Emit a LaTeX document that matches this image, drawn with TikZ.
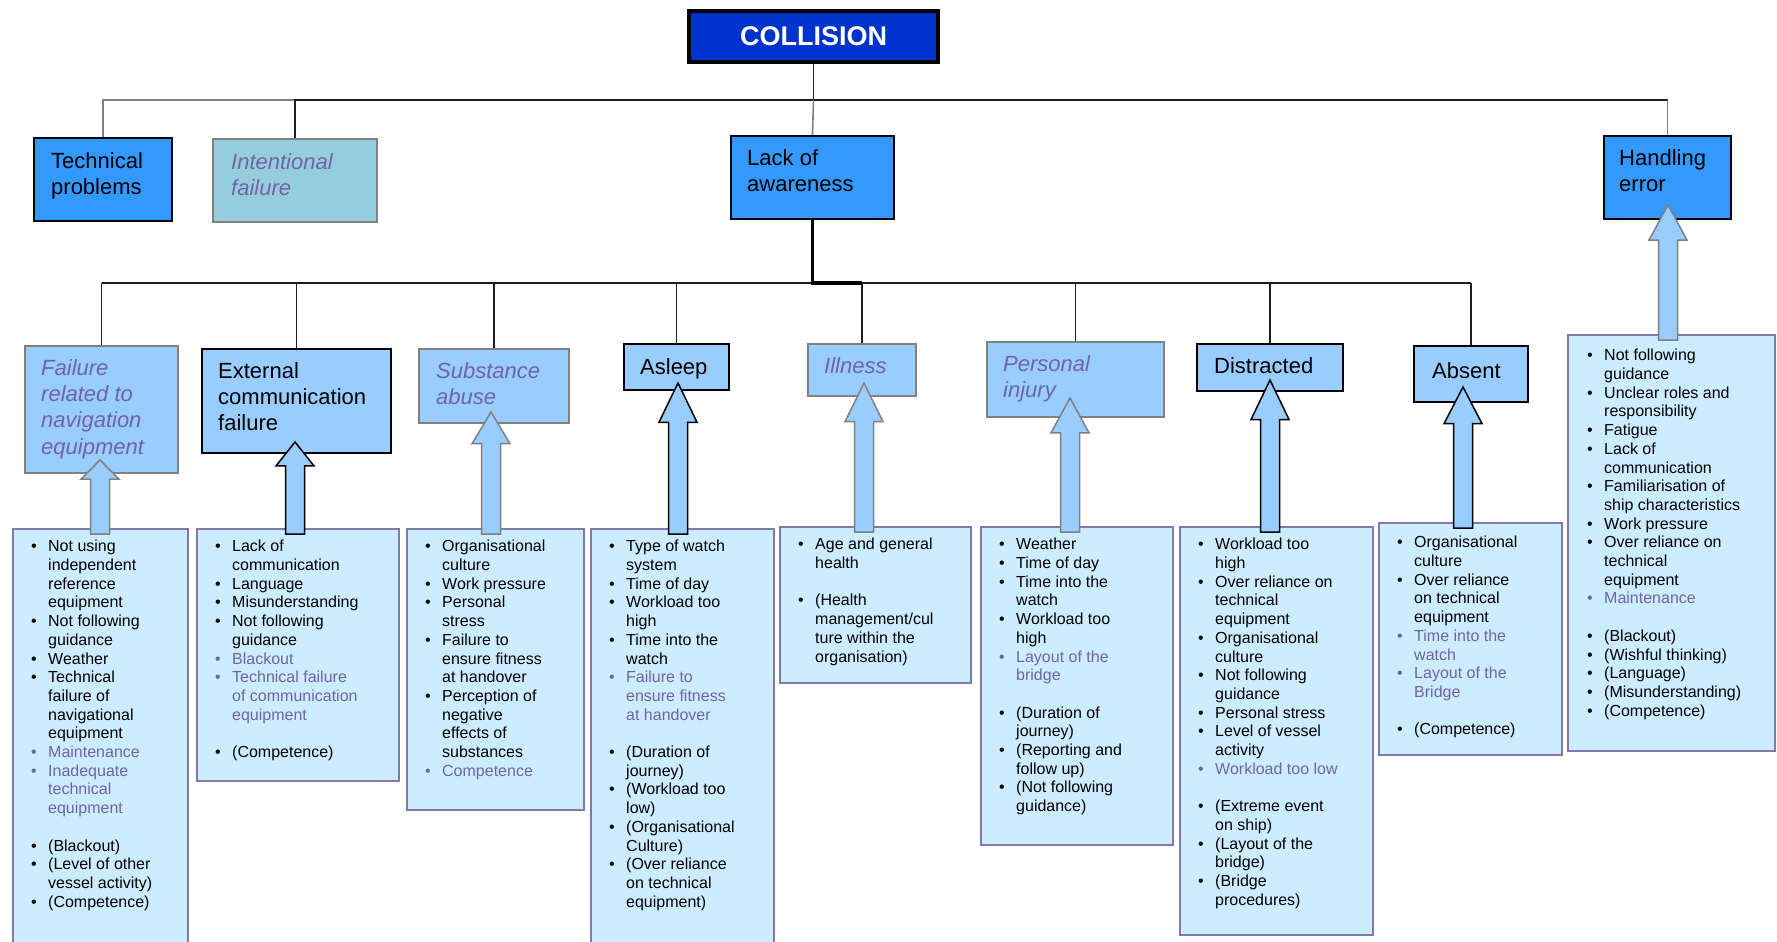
\documentclass[tikz,border=0pt]{standalone}
\usepackage{fontspec}
\setmainfont{Liberation Sans}
\usetikzlibrary{calc}

\definecolor{collblue}{RGB}{0,51,204}
\definecolor{midblue}{RGB}{51,153,255}
\definecolor{lightblue}{RGB}{153,204,255}
\definecolor{paleblue}{RGB}{204,236,255}
\definecolor{tealbox}{RGB}{150,205,220}
\definecolor{ptext}{RGB}{112,100,165}
\definecolor{pborder}{RGB}{128,120,175}
\definecolor{greyline}{RGB}{128,128,128}
\definecolor{darkline}{RGB}{30,30,30}

% list lines: black bullet item / continuation, muted purple item / continuation
\newcommand\BItem[1]{\makebox[17pt][l]{\textbullet}#1}
\newcommand\BCont[1]{\hspace*{17pt}#1}
\newcommand\GItem[1]{{\color{ptext}\makebox[17pt][l]{\textbullet}#1}}
\newcommand\GCont[1]{{\color{ptext}\hspace*{17pt}#1}}

% upward block arrow from a list box to a tip coordinate
\newcommand\UpArrow[3]{%
  \path[#3] let \p1=($(#2 |- #1.north)+(0,6)$), \p2=(#2), \n1={0.26*(\y2-\y1)} in
    (\x2-9.5pt,\y1) -- (\x2-9.5pt,\y2-\n1*1pt) -- (\x2-19pt,\y2-\n1*1pt) -- (\x2,\y2)
    -- (\x2+19pt,\y2-\n1*1pt) -- (\x2+9.5pt,\y2-\n1*1pt) -- (\x2+9.5pt,\y1) -- cycle;}

\tikzset{
  topbox/.style={draw=black, line width=3.5pt, fill=collblue, inner sep=0pt,
    text=white, font=\fontsize{27}{30}\selectfont\bfseries},
  lvlone/.style={draw=black, line width=2pt, fill=midblue, inner sep=0pt},
  intentbox/.style={draw=greyline, line width=2pt, fill=tealbox, inner sep=0pt},
  greybox/.style={draw=greyline, line width=2pt, fill=lightblue, inner sep=0pt},
  darkbox/.style={draw=black, line width=2pt, fill=lightblue, inner sep=0pt},
  detail/.style={draw=pborder, line width=1.8pt, fill=paleblue, inner sep=0pt, anchor=north west},
  headtext/.style={anchor=north west, inner sep=0pt, align=left, font=\fontsize{22}{26.4}\selectfont},
  headital/.style={anchor=north west, inner sep=0pt, align=left, text=ptext,
    font=\fontsize{22}{26.4}\selectfont\itshape},
  listtext/.style={anchor=north west, inner sep=0pt, align=left, font=\fontsize{16}{18.7}\selectfont},
  conn/.style={line width=1.6pt, draw=darkline},
  greyconn/.style={line width=1.6pt, draw=greyline},
  arrowgrey/.style={fill=lightblue, draw=greyline, line width=1.5pt, line join=miter},
  arrowdark/.style={fill=lightblue, draw=black, line width=1.5pt, line join=miter},
}

\begin{document}
\begin{tikzpicture}[x=1pt,y=-1pt]
\useasboundingbox (0,0) rectangle (1777,942);
\fill[white] (0,0) rectangle (1777,942);
\clip (0,0) rectangle (1777,942);

% ---- top event and first level ----
\node[topbox, minimum width=249pt, minimum height=51pt] (col) at (813.5,36.5) {COLLISION};

\node[lvlone, minimum width=138pt, minimum height=83pt] (tp) at (103,179.5) {};
\node[intentbox, minimum width=164pt, minimum height=83pt] (if) at (295,180.5) {};
\node[lvlone, minimum width=163pt, minimum height=83pt] (law) at (812.5,177.5) {};
\node[lvlone, minimum width=127pt, minimum height=83pt] (he) at (1667.5,177.5) {};

\node[headtext] (tpT) at ($(tp.north west)+(18,15)$) {Technical\\problems};
\node[headital] (ifT) at ($(if.north west)+(19,15)$) {Intentional\\failure};
\node[headtext] (lawT) at ($(law.north west)+(17,14)$) {Lack of\\awareness};
\node[headtext] (heT) at ($(he.north west)+(16,14)$) {Handling\\error};

\coordinate (bus1) at (813.5,100);
\draw[greyconn] (bus1) -| (tp.north);
\draw[conn] (bus1) -| (if.north);
\draw[conn] (col.south) -- (bus1);
\draw[greyconn] (bus1) -- (law.north);
\draw[conn] (bus1) -- (bus1 -| he.north);
\draw[greyconn] (bus1 -| he.north) -- (he.north);

% ---- second level under lack of awareness ----
\node[greybox, minimum width=153pt, minimum height=127pt] (n1) at (101.5,409.5) {};
\node[darkbox, minimum width=189pt, minimum height=104pt] (n2) at (296.5,401) {};
\node[greybox, minimum width=150pt, minimum height=74pt] (n3) at (494,386) {};
\node[darkbox, minimum width=105pt, minimum height=46pt] (n4) at (676.5,367) {};
\node[greybox, minimum width=108pt, minimum height=52pt] (n5) at (862,370) {};
\node[greybox, minimum width=177pt, minimum height=75pt] (n6) at (1075.5,379.5) {};
\node[darkbox, minimum width=146pt, minimum height=47pt] (n7) at (1270,367.5) {};
\node[darkbox, minimum width=114pt, minimum height=56pt] (n8) at (1471,374) {};

\node[headital] (n1T) at ($(n1.north west)+(17,14)$) {Failure\\related to\\navigation\\equipment};
\node[headtext] (n2T) at ($(n2.north west)+(17,14)$) {External\\communication\\failure};
\node[headital] (n3T) at ($(n3.north west)+(18,14)$) {Substance\\abuse};
\node[headtext] (n4T) at ($(n4.north west)+(17,15)$) {Asleep};
\node[headital] (n5T) at ($(n5.north west)+(17,14)$) {Illness};
\node[headital] (n6T) at ($(n6.north west)+(17,14)$) {Personal\\injury};
\node[headtext] (n7T) at ($(n7.north west)+(18,14)$) {Distracted};
\node[headtext] (n8T) at ($(n8.north west)+(19,17)$) {Absent};

\coordinate (bus2) at (812.5,283);
\draw[conn] (bus2 -| n1.north) -- (bus2 -| n8.north);
\foreach \k in {n1,n2,n3,n4,n5,n6,n7,n8}
  \draw[conn] (bus2 -| \k.north) -- (\k.north);
\draw[line width=3.5pt, black] (law.south) |- (n5.north |- bus2);

% ---- contributing factor lists ----
\node[detail, minimum width=175pt, minimum height=430pt] (d1) at (12,528) {};
\node[detail, minimum width=202pt, minimum height=252pt] (d2) at (196,528) {};
\node[detail, minimum width=177pt, minimum height=281pt] (d3) at (406,528) {};
\node[detail, minimum width=183pt, minimum height=430pt] (d4) at (590,528) {};
\node[detail, minimum width=191pt, minimum height=156pt] (d5) at (779,526) {};
\node[detail, minimum width=192pt, minimum height=318pt] (d6) at (980,526) {};
\node[detail, minimum width=193pt, minimum height=408pt] (d7) at (1179,526) {};
\node[detail, minimum width=183pt, minimum height=232pt] (d8) at (1378,522) {};
\node[detail, minimum width=207pt, minimum height=416pt] (d9) at (1567,334) {};

\node[listtext] (t1) at ($(d1.north west)+(19,12)$) {%
\BItem{Not using}\\ \BCont{independent}\\ \BCont{reference}\\ \BCont{equipment}\\
\BItem{Not following}\\ \BCont{guidance}\\
\BItem{Weather}\\
\BItem{Technical}\\ \BCont{failure of}\\ \BCont{navigational}\\ \BCont{equipment}\\
\GItem{Maintenance}\\
\GItem{Inadequate}\\ \GCont{technical}\\ \GCont{equipment}\\[18.7pt]
\BItem{(Blackout)}\\
\BItem{(Level of other}\\ \BCont{vessel activity)}\\
\BItem{(Competence)}};

\node[listtext] (t2) at ($(d2.north west)+(19,12)$) {%
\BItem{Lack of}\\ \BCont{communication}\\
\BItem{Language}\\
\BItem{Misunderstanding}\\
\BItem{Not following}\\ \BCont{guidance}\\
\GItem{Blackout}\\
\GItem{Technical failure}\\ \GCont{of communication}\\ \GCont{equipment}\\[18.7pt]
\BItem{(Competence)}};

\node[listtext] (t3) at ($(d3.north west)+(19,12)$) {%
\BItem{Organisational}\\ \BCont{culture}\\
\BItem{Work pressure}\\
\BItem{Personal}\\ \BCont{stress}\\
\BItem{Failure to}\\ \BCont{ensure fitness}\\ \BCont{at handover}\\
\BItem{Perception of}\\ \BCont{negative}\\ \BCont{effects of}\\ \BCont{substances}\\
\GItem{Competence}};

\node[listtext] (t4) at ($(d4.north west)+(19,12)$) {%
\BItem{Type of watch}\\ \BCont{system}\\
\BItem{Time of day}\\
\BItem{Workload too}\\ \BCont{high}\\
\BItem{Time into the}\\ \BCont{watch}\\
\GItem{Failure to}\\ \GCont{ensure fitness}\\ \GCont{at handover}\\[18.7pt]
\BItem{(Duration of}\\ \BCont{journey)}\\
\BItem{(Workload too}\\ \BCont{low)}\\
\BItem{(Organisational}\\ \BCont{Culture)}\\
\BItem{(Over reliance}\\ \BCont{on technical}\\ \BCont{equipment)}};

\node[listtext] (t5) at ($(d5.north west)+(19,12)$) {%
\BItem{Age and general}\\ \BCont{health}\\[18.7pt]
\BItem{(Health}\\ \BCont{management/cul}\\ \BCont{ture within the}\\ \BCont{organisation)}};

\node[listtext] (t6) at ($(d6.north west)+(19,12)$) {%
\BItem{Weather}\\
\BItem{Time of day}\\
\BItem{Time into the}\\ \BCont{watch}\\
\BItem{Workload too}\\ \BCont{high}\\
\GItem{Layout of the}\\ \GCont{bridge}\\[18.7pt]
\BItem{(Duration of}\\ \BCont{journey)}\\
\BItem{(Reporting and}\\ \BCont{follow up)}\\
\BItem{(Not following}\\ \BCont{guidance)}};

\node[listtext] (t7) at ($(d7.north west)+(19,12)$) {%
\BItem{Workload too}\\ \BCont{high}\\
\BItem{Over reliance on}\\ \BCont{technical}\\ \BCont{equipment}\\
\BItem{Organisational}\\ \BCont{culture}\\
\BItem{Not following}\\ \BCont{guidance}\\
\BItem{Personal stress}\\
\BItem{Level of vessel}\\ \BCont{activity}\\
\GItem{Workload too low}\\[18.7pt]
\BItem{(Extreme event}\\ \BCont{on ship)}\\
\BItem{(Layout of the}\\ \BCont{bridge)}\\
\BItem{(Bridge}\\ \BCont{procedures)}};

\node[listtext] (t8) at ($(d8.north west)+(19,14)$) {%
\BItem{Organisational}\\ \BCont{culture}\\
\BItem{Over reliance}\\ \BCont{on technical}\\ \BCont{equipment}\\
\GItem{Time into the}\\ \GCont{watch}\\
\GItem{Layout of the}\\ \GCont{Bridge}\\[18.7pt]
\BItem{(Competence)}};

\node[listtext] (t9) at ($(d9.north west)+(20,15)$) {%
\BItem{Not following}\\ \BCont{guidance}\\
\BItem{Unclear roles and}\\ \BCont{responsibility}\\
\BItem{Fatigue}\\
\BItem{Lack of}\\ \BCont{communication}\\
\BItem{Familiarisation of}\\ \BCont{ship characteristics}\\
\BItem{Work pressure}\\
\BItem{Over reliance on}\\ \BCont{technical}\\ \BCont{equipment}\\
\GItem{Maintenance}\\[18.7pt]
\BItem{(Blackout)}\\
\BItem{(Wishful thinking)}\\
\BItem{(Language)}\\
\BItem{(Misunderstanding)}\\
\BItem{(Competence)}};

% ---- block arrows from each list up into its box ----
\coordinate (a1) at (100,460);
\coordinate (a2) at (295,442);
\coordinate (a3) at (491,412);
\coordinate (a4) at (678,383);
\coordinate (a5) at (864,383);
\coordinate (a6) at (1070,398);
\coordinate (a7) at (1270,380);
\coordinate (a8) at (1463,387);
\coordinate (a9) at (1668,205);

\UpArrow{d1}{a1}{arrowgrey}
\UpArrow{d2}{a2}{arrowdark}
\UpArrow{d3}{a3}{arrowgrey}
\UpArrow{d4}{a4}{arrowdark}
\UpArrow{d5}{a5}{arrowgrey}
\UpArrow{d6}{a6}{arrowgrey}
\UpArrow{d7}{a7}{arrowdark}
\UpArrow{d8}{a8}{arrowdark}
\UpArrow{d9}{a9}{arrowgrey}
\end{tikzpicture}
\end{document}
